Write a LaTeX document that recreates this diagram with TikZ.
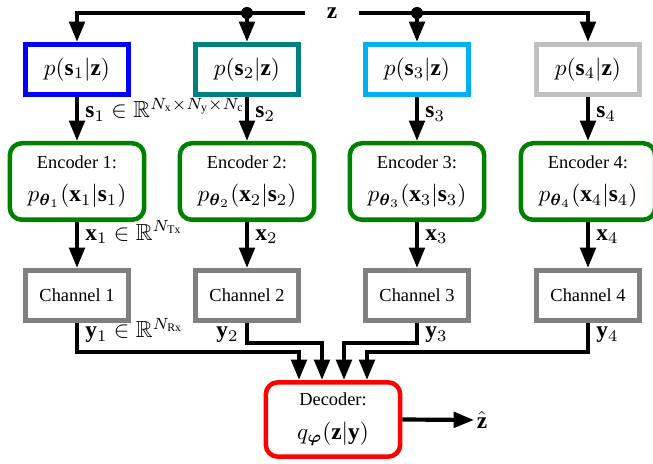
\documentclass[tikz,border=0pt]{standalone}
\usepackage{amsmath,amssymb}
\usepackage{fontspec}
\setmainfont{Liberation Serif}
\usetikzlibrary{arrows.meta,calc}
\definecolor{cblue}{RGB}{0,0,255}
\definecolor{cteal}{RGB}{0,128,128}
\definecolor{ccyan}{RGB}{0,176,240}
\definecolor{clgray}{RGB}{192,192,192}
\definecolor{cgreen}{RGB}{0,128,0}
\definecolor{cgray}{RGB}{128,128,128}
\definecolor{cred}{RGB}{255,0,0}
\newcommand{\tf}[1]{{\fontsize{7.9}{9}\selectfont #1}}
\begin{document}
\begin{tikzpicture}[x=0.43pt,y=-0.43pt,
  flow/.style={line width=1.8pt,-{Triangle[length=8.8pt,width=6.6pt]}},
  sqbox/.style={draw,line width=1.94pt,minimum width=44.5pt,minimum height=21.7pt,inner sep=0pt},
  encbox/.style={draw=cgreen,line width=1.94pt,rounded corners=5.2pt,minimum width=57.8pt,minimum height=32.9pt,inner sep=0pt,align=center},
  decbox/.style={draw=cred,line width=1.94pt,rounded corners=5.2pt,minimum width=57.8pt,minimum height=32pt,inner sep=0pt,align=center},
  lab/.style={inner sep=0pt},
  dot/.style={fill,circle,inner sep=0pt,minimum size=5.2pt}
]
\useasboundingbox (0,0) rectangle (653,464);
% top label
\node[minimum width=22.8pt,inner sep=0pt] (z) at (332,13) {$\mathbf{z}$};
% priors
\node[sqbox,draw=cblue] (p1) at (77,69.5) {$p(\mathbf{s}_1|\mathbf{z})$};
\node[sqbox,draw=cteal] (p2) at (247,69.5) {$p(\mathbf{s}_2|\mathbf{z})$};
\node[sqbox,draw=ccyan] (p3) at (417,69.5) {$p(\mathbf{s}_3|\mathbf{z})$};
\node[sqbox,draw=clgray] (p4) at (588,69.5) {$p(\mathbf{s}_4|\mathbf{z})$};
% encoders
\node[encbox] (e1) at (77,181.5) {\tf{Encoder 1:}\\[2.4pt]$p_{\boldsymbol{\theta}_1}(\mathbf{x}_1|\mathbf{s}_1)$};
\node[encbox] (e2) at (247,181.5) {\tf{Encoder 2:}\\[2.4pt]$p_{\boldsymbol{\theta}_2}(\mathbf{x}_2|\mathbf{s}_2)$};
\node[encbox] (e3) at (417,181.5) {\tf{Encoder 3:}\\[2.4pt]$p_{\boldsymbol{\theta}_3}(\mathbf{x}_3|\mathbf{s}_3)$};
\node[encbox] (e4) at (588,181.5) {\tf{Encoder 4:}\\[2.4pt]$p_{\boldsymbol{\theta}_4}(\mathbf{x}_4|\mathbf{s}_4)$};
% channels
\node[sqbox,draw=cgray] (c1) at (77,295.5) {\tf{Channel 1}};
\node[sqbox,draw=cgray] (c2) at (247,295.5) {\tf{Channel 2}};
\node[sqbox,draw=cgray] (c3) at (417,295.5) {\tf{Channel 3}};
\node[sqbox,draw=cgray] (c4) at (588,295.5) {\tf{Channel 4}};
% decoder
\node[decbox] (dec) at (333,419.5) {\tf{Decoder:}\\[2.4pt]$q_{\boldsymbol{\varphi}}(\mathbf{z}|\mathbf{y})$};
\node[inner sep=1pt] (zh) at (482,420) {$\hat{\mathbf{z}}$};
% top distribution
\draw[flow] (z.west) -| (p1.north);
\draw[flow] (z.east) -| (p4.north);
\coordinate (j2) at (z.west -| p2.north);
\coordinate (j3) at (z.east -| p3.north);
\draw[flow] (j2) -- (p2.north);
\draw[flow] (j3) -- (p3.north);
\node[dot] at (j2) {};
\node[dot] at (j3) {};
% s arrows
\draw[flow] (p1.south) -- (e1.north);
\draw[flow] (p2.south) -- (e2.north);
\draw[flow] (p3.south) -- (e3.north);
\draw[flow] (p4.south) -- (e4.north);
\node[lab,anchor=base west] at ($(p1.south)+(8,21)$) {$\mathbf{s}_1\in\mathbb{R}^{N_\mathrm{x}\times N_\mathrm{y}\times N_\mathrm{c}}$};
\node[lab,anchor=base west] at ($(p2.south)+(8,21)$) {$\mathbf{s}_2$};
\node[lab,anchor=base west] at ($(p3.south)+(8,21)$) {$\mathbf{s}_3$};
\node[lab,anchor=base west] at ($(p4.south)+(8,21)$) {$\mathbf{s}_4$};
% x arrows
\draw[flow] (e1.south) -- (c1.north);
\draw[flow] (e2.south) -- (c2.north);
\draw[flow] (e3.south) -- (c3.north);
\draw[flow] (e4.south) -- (c4.north);
\node[lab,anchor=base west] at ($(e1.south)+(8,18)$) {$\mathbf{x}_1\in\mathbb{R}^{N_\mathrm{Tx}}$};
\node[lab,anchor=base west] at ($(e2.south)+(8,18)$) {$\mathbf{x}_2$};
\node[lab,anchor=base west] at ($(e3.south)+(8,18)$) {$\mathbf{x}_3$};
\node[lab,anchor=base west] at ($(e4.south)+(8,18)$) {$\mathbf{x}_4$};
% y arrows
\draw[flow] (c1.south) -- ++(0,29) -| ($(dec.north)+(-34,0)$);
\draw[flow] (c2.south) -- ++(0,20) -| ($(dec.north)+(-11,0)$);
\draw[flow] (c3.south) -- ++(0,20) -| ($(dec.north)+(11,0)$);
\draw[flow] (c4.south) -- ++(0,29) -| ($(dec.north)+(34,0)$);
\node[lab,anchor=base west] at ($(c1.south)+(8,15)$) {$\mathbf{y}_1\in\mathbb{R}^{N_\mathrm{Rx}}$};
\node[lab,anchor=base east] at ($(c2.south)+(-8,15)$) {$\mathbf{y}_2$};
\node[lab,anchor=base west] at ($(c3.south)+(8,15)$) {$\mathbf{y}_3$};
\node[lab,anchor=base west] at ($(c4.south)+(8,15)$) {$\mathbf{y}_4$};
% output
\draw[flow] (dec.east) -- (zh.west);
\end{tikzpicture}
\end{document}
